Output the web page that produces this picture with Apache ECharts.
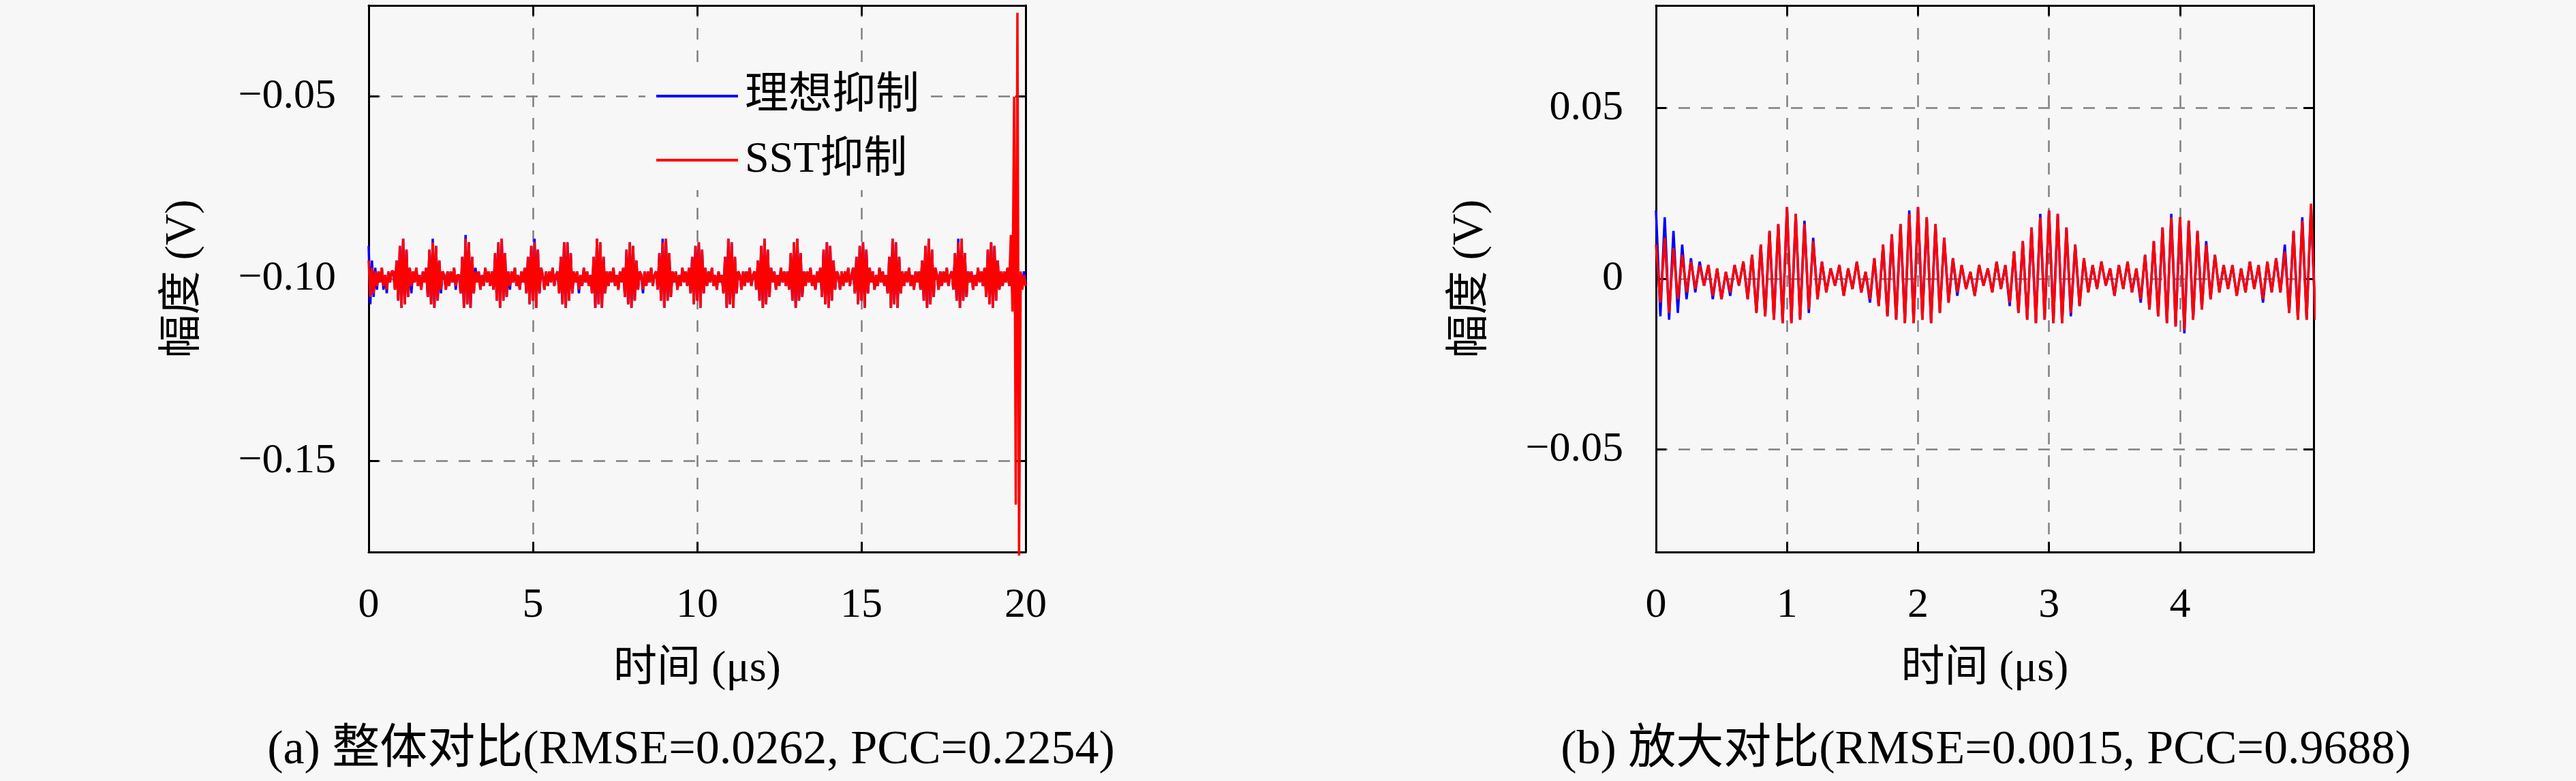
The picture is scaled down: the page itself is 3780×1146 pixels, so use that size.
<!DOCTYPE html>
<html><head><meta charset="utf-8">
<script src="https://cdn.jsdelivr.net/npm/echarts@6/dist/echarts.min.js"></script>
<style>html,body{margin:0;padding:0;background:#f7f7f7}#c{width:3780px;height:1146px}</style>
</head><body><div id="c"></div><script>
const FONT = "'Liberation Serif','Noto Sans CJK SC',serif";
const seriesNames = ['理想抑制', 'SST抑制'];
const xAxisTitle = '时间 (μs)';
const yAxisTitle = '幅度 (V)';
const captions = ['(a) 整体对比(RMSE=0.0262, PCC=0.2254)', '(b) 放大对比(RMSE=0.0015, PCC=0.9688)'];

// panel (a): sampled every 0.05 μs, 0 .. 20 μs
const leftStep = 0.05;
const leftXTicks = [0, 5, 10, 15, 20];
const leftYTicks = [-0.15, -0.10, -0.05];
const leftIdeal = [
-0.091,-0.107,-0.095,-0.105,-0.097,-0.103,-0.098,-0.101,-0.097,-0.103,-0.099,-0.104,-0.098,-0.101,-0.098,
-0.098,-0.103,-0.095,-0.106,-0.091,-0.108,-0.089,-0.107,-0.092,-0.105,-0.097,-0.104,-0.098,-0.101,-0.097,-0.102,-0.099,-0.103,-0.098,-0.101,
-0.097,-0.105,-0.092,-0.107,-0.089,-0.108,-0.091,-0.106,-0.095,-0.104,-0.098,-0.099,-0.103,-0.098,-0.102,-0.098,-0.101,-0.097,-0.103,-0.099,
-0.099,-0.104,-0.094,-0.108,-0.088,-0.107,-0.090,-0.108,-0.094,-0.104,-0.097,-0.101,-0.098,-0.103,-0.099,-0.102,-0.097,-0.101,-0.098,-0.102,
-0.098,-0.103,-0.093,-0.106,-0.090,-0.108,-0.089,-0.106,-0.093,-0.105,-0.098,-0.103,-0.098,-0.101,-0.097,-0.102,-0.099,-0.103,-0.098,-0.101,
-0.097,-0.104,-0.094,-0.107,-0.091,-0.106,-0.089,-0.108,-0.092,-0.104,-0.097,-0.099,-0.103,-0.098,-0.102,-0.098,-0.101,-0.097,-0.102,-0.099,
-0.098,-0.104,-0.094,-0.107,-0.090,-0.108,-0.090,-0.106,-0.093,-0.104,-0.098,-0.101,-0.098,-0.104,-0.099,-0.102,-0.097,-0.101,-0.098,-0.102,
-0.099,-0.104,-0.094,-0.108,-0.089,-0.107,-0.090,-0.108,-0.094,-0.104,-0.098,-0.102,-0.098,-0.101,-0.097,-0.102,-0.099,-0.103,-0.098,-0.101,
-0.097,-0.105,-0.092,-0.107,-0.090,-0.108,-0.091,-0.106,-0.095,-0.103,-0.098,-0.099,-0.104,-0.098,-0.102,-0.098,-0.101,-0.097,-0.102,-0.099,
-0.098,-0.103,-0.093,-0.106,-0.089,-0.108,-0.089,-0.106,-0.093,-0.105,-0.098,-0.101,-0.098,-0.103,-0.099,-0.102,-0.097,-0.101,-0.098,-0.102,
-0.097,-0.104,-0.094,-0.107,-0.091,-0.106,-0.090,-0.108,-0.092,-0.104,-0.097,-0.102,-0.098,-0.101,-0.097,-0.102,-0.099,-0.103,-0.098,-0.101,
-0.099,-0.104,-0.094,-0.108,-0.089,-0.107,-0.090,-0.108,-0.094,-0.104,-0.098,-0.099,-0.103,-0.098,-0.102,-0.098,-0.101,-0.097,-0.102,-0.099,
-0.098,-0.103,-0.095,-0.106,-0.091,-0.108,-0.089,-0.107,-0.092,-0.105,-0.097,-0.101,-0.098,-0.103,-0.099,-0.102,-0.097,-0.101,-0.098,-0.102,
-0.098,-0.103,-0.093,-0.106,-0.090,-0.108,-0.089,-0.106,-0.093,-0.105,-0.098,-0.102,-0.098,-0.101,-0.097,-0.102,-0.099,-0.103,-0.098,-0.101,
-0.097,-0.105,-0.092,-0.107,-0.090,-0.108,-0.091,-0.106,-0.095,-0.103,-0.098,-0.099,-0.103,-0.098,-0.102,-0.098,-0.101,-0.097,-0.102,-0.099,
-0.097,-0.104,-0.094,-0.107,-0.091,-0.106,-0.090,-0.108,-0.092,-0.104,-0.097,-0.101,-0.098,-0.103,-0.099,-0.102,-0.097,-0.101,-0.098,-0.102,
-0.099,-0.104,-0.094,-0.108,-0.089,-0.107,-0.090,-0.108,-0.094,-0.104,-0.098,-0.102,-0.098,-0.101,-0.097,-0.102,-0.099,-0.103,-0.098,-0.101,
-0.098,-0.103,-0.095,-0.106,-0.091,-0.108,-0.089,-0.107,-0.092,-0.105,-0.097,-0.099,-0.103,-0.098,-0.102,-0.098,-0.101,-0.097,-0.102,-0.099,
-0.098,-0.103,-0.093,-0.106,-0.089,-0.108,-0.089,-0.106,-0.093,-0.105,-0.098,-0.101,-0.098,-0.103,-0.099,-0.102,-0.097,-0.101,-0.098,-0.102,
-0.097,-0.105,-0.092,-0.107,-0.090,-0.108,-0.091,-0.106,-0.095,-0.103,-0.098,-0.102,-0.098,-0.101,-0.097,-0.102,-0.097,-0.104,-0.098,-0.103,-0.097,-0.104,-0.099,-0.102,-0.098,-0.101
];
const leftSST = [
-0.095,-0.105,-0.097,-0.104,-0.098,-0.102,-0.098,-0.101,-0.097,-0.102,-0.099,-0.103,-0.098,-0.101,-0.098,
-0.098,-0.103,-0.095,-0.106,-0.091,-0.108,-0.089,-0.107,-0.092,-0.105,-0.097,-0.102,-0.098,-0.101,-0.097,-0.102,-0.099,-0.103,-0.098,-0.101,
-0.097,-0.105,-0.092,-0.107,-0.090,-0.108,-0.091,-0.106,-0.095,-0.103,-0.098,-0.099,-0.103,-0.098,-0.102,-0.098,-0.101,-0.097,-0.102,-0.099,
-0.099,-0.104,-0.094,-0.108,-0.089,-0.107,-0.090,-0.108,-0.094,-0.104,-0.098,-0.101,-0.098,-0.103,-0.099,-0.102,-0.097,-0.101,-0.098,-0.102,
-0.098,-0.103,-0.093,-0.106,-0.090,-0.108,-0.089,-0.106,-0.093,-0.105,-0.098,-0.102,-0.098,-0.101,-0.097,-0.102,-0.099,-0.103,-0.098,-0.101,
-0.097,-0.104,-0.094,-0.107,-0.091,-0.106,-0.090,-0.108,-0.092,-0.104,-0.097,-0.099,-0.103,-0.098,-0.102,-0.098,-0.101,-0.097,-0.102,-0.099,
-0.098,-0.104,-0.094,-0.107,-0.090,-0.108,-0.090,-0.106,-0.093,-0.104,-0.098,-0.101,-0.098,-0.103,-0.099,-0.102,-0.097,-0.101,-0.098,-0.102,
-0.099,-0.104,-0.094,-0.108,-0.089,-0.107,-0.090,-0.108,-0.094,-0.104,-0.098,-0.102,-0.098,-0.101,-0.097,-0.102,-0.099,-0.103,-0.098,-0.101,
-0.097,-0.105,-0.092,-0.107,-0.090,-0.108,-0.091,-0.106,-0.095,-0.103,-0.098,-0.099,-0.103,-0.098,-0.102,-0.098,-0.101,-0.097,-0.102,-0.099,
-0.098,-0.103,-0.093,-0.106,-0.090,-0.108,-0.089,-0.106,-0.093,-0.105,-0.098,-0.101,-0.098,-0.103,-0.099,-0.102,-0.097,-0.101,-0.098,-0.102,
-0.097,-0.104,-0.094,-0.107,-0.091,-0.106,-0.090,-0.108,-0.092,-0.104,-0.097,-0.102,-0.098,-0.101,-0.097,-0.102,-0.099,-0.103,-0.098,-0.101,
-0.099,-0.104,-0.094,-0.108,-0.089,-0.107,-0.090,-0.108,-0.094,-0.104,-0.098,-0.099,-0.103,-0.098,-0.102,-0.098,-0.101,-0.097,-0.102,-0.099,
-0.098,-0.103,-0.095,-0.106,-0.091,-0.108,-0.089,-0.107,-0.092,-0.105,-0.097,-0.101,-0.098,-0.103,-0.099,-0.102,-0.097,-0.101,-0.098,-0.102,
-0.098,-0.103,-0.093,-0.106,-0.090,-0.108,-0.089,-0.106,-0.093,-0.105,-0.098,-0.102,-0.098,-0.101,-0.097,-0.102,-0.099,-0.103,-0.098,-0.101,
-0.097,-0.105,-0.092,-0.107,-0.090,-0.108,-0.091,-0.106,-0.095,-0.103,-0.098,-0.099,-0.103,-0.098,-0.102,-0.098,-0.101,-0.097,-0.102,-0.099,
-0.097,-0.104,-0.094,-0.107,-0.091,-0.106,-0.090,-0.108,-0.092,-0.104,-0.097,-0.101,-0.098,-0.103,-0.099,-0.102,-0.097,-0.101,-0.098,-0.102,
-0.099,-0.104,-0.094,-0.108,-0.089,-0.107,-0.090,-0.108,-0.094,-0.104,-0.098,-0.102,-0.098,-0.101,-0.097,-0.102,-0.099,-0.103,-0.098,-0.101,
-0.098,-0.103,-0.095,-0.106,-0.091,-0.108,-0.089,-0.107,-0.092,-0.105,-0.097,-0.099,-0.103,-0.098,-0.102,-0.098,-0.101,-0.097,-0.102,-0.099,
-0.098,-0.103,-0.093,-0.106,-0.090,-0.108,-0.089,-0.106,-0.093,-0.105,-0.098,-0.101,-0.098,-0.103,-0.099,-0.102,-0.097,-0.101,-0.098,-0.102,
-0.097,-0.105,-0.092,-0.107,-0.090,-0.108,-0.091,-0.106,-0.095,-0.103,-0.098,-0.102,-0.098,-0.101,-0.097,-0.102,-0.088,-0.109,-0.050,-0.162,-0.027,-0.176,-0.098,-0.103,-0.099,-0.102
];

// panel (b): sampled every 1/30 μs, 0 .. 5 μs
const rightStep = 1 / 30;
const rightXTicks = [0, 1, 2, 3, 4];
const rightYTicks = [-0.05, 0, 0.05];
const rightIdeal = [
0.020,-0.011,0.018,-0.012,0.014,-0.010,0.010,-0.006,0.006,-0.004,
0.005,-0.002,0.004,-0.006,0.003,-0.006,0.002,-0.005,0.004,-0.002,
0.005,-0.006,0.007,-0.010,0.010,-0.011,0.014,-0.012,0.016,-0.013,
0.021,-0.013,0.019,-0.012,0.017,-0.010,0.012,-0.006,0.005,-0.004,
0.003,-0.002,0.004,-0.005,0.003,-0.003,0.005,-0.004,0.002,-0.007,
0.006,-0.008,0.010,-0.011,0.013,-0.012,0.016,-0.013,0.020,-0.013,
0.021,-0.012,0.018,-0.013,0.016,-0.010,0.012,-0.007,0.006,-0.005,
0.004,-0.003,0.002,-0.005,0.004,-0.002,0.003,-0.004,0.005,-0.003,
0.004,-0.008,0.008,-0.010,0.011,-0.012,0.015,-0.013,0.019,-0.012,
0.020,-0.013,0.019,-0.013,0.015,-0.011,0.010,-0.008,0.006,-0.004,
0.004,-0.003,0.005,-0.002,0.003,-0.005,0.004,-0.003,0.005,-0.004,
0.003,-0.007,0.007,-0.009,0.011,-0.011,0.015,-0.013,0.019,-0.014,
0.018,-0.016,0.017,-0.012,0.014,-0.009,0.011,-0.006,0.007,-0.004,
0.004,-0.003,0.004,-0.005,0.003,-0.004,0.005,-0.003,0.004,-0.007,
0.005,-0.004,0.006,-0.004,0.010,-0.010,0.014,-0.012,0.018,-0.012,
0.021,-0.012
];
const rightSST = [
0.010,-0.007,0.012,-0.010,0.009,-0.006,0.007,-0.004,0.005,-0.003,
0.004,-0.002,0.004,-0.005,0.003,-0.006,0.002,-0.004,0.004,-0.002,
0.005,-0.006,0.007,-0.010,0.010,-0.011,0.014,-0.012,0.016,-0.013,
0.021,-0.013,0.019,-0.012,0.016,-0.009,0.011,-0.006,0.005,-0.004,
0.003,-0.002,0.004,-0.005,0.003,-0.003,0.005,-0.004,0.002,-0.006,
0.006,-0.008,0.010,-0.011,0.013,-0.012,0.016,-0.013,0.019,-0.013,
0.021,-0.012,0.018,-0.013,0.016,-0.010,0.012,-0.007,0.006,-0.004,
0.004,-0.003,0.002,-0.005,0.004,-0.002,0.003,-0.004,0.005,-0.003,
0.004,-0.007,0.008,-0.010,0.011,-0.012,0.015,-0.013,0.018,-0.012,
0.020,-0.013,0.019,-0.013,0.015,-0.010,0.010,-0.008,0.006,-0.004,
0.004,-0.003,0.005,-0.002,0.003,-0.005,0.004,-0.003,0.005,-0.004,
0.003,-0.006,0.007,-0.009,0.011,-0.011,0.015,-0.013,0.018,-0.014,
0.018,-0.015,0.017,-0.012,0.014,-0.009,0.010,-0.006,0.007,-0.004,
0.004,-0.003,0.004,-0.005,0.003,-0.004,0.005,-0.003,0.004,-0.006,
0.005,-0.004,0.006,-0.004,0.008,-0.010,0.014,-0.012,0.017,-0.012,
0.022,-0.012
];

const pair = (arr, step) => arr.map((v, i) => [i * step, v]);
const minus = s => s.replace('-', '\u2212');
const fmtLeftY = v => minus(v.toFixed(2));
const fmtRightY = v => Math.abs(v) < 1e-9 ? '0' : minus(v.toFixed(2));

const LINE = { color: '#000', width: 3 };
const GRIDLINE = { show: true, lineStyle: { color: '#808080', width: 2.5, type: [17, 16] } };
const LABEL = { color: '#000', fontSize: 62, fontFamily: FONT };
const NAME = { color: '#000', fontSize: 64, fontFamily: FONT };

function mainX(gi, min, max, ticks) {
  return {
    gridIndex: gi, type: 'value', min, max, position: 'bottom',
    axisLine: { show: true, onZero: false, lineStyle: LINE },
    axisTick: { show: true, inside: true, length: 15, lineStyle: LINE, customValues: ticks },
    axisLabel: Object.assign({ margin: 48, customValues: ticks, formatter: v => String(v) }, LABEL),
    splitLine: GRIDLINE,
    name: xAxisTitle, nameLocation: 'middle', nameGap: 140, nameTextStyle: NAME
  };
}
function boxX(gi, min, max, ticks) {
  return {
    gridIndex: gi, type: 'value', min, max, position: 'top',
    axisLine: { show: true, onZero: false, lineStyle: LINE },
    axisTick: { show: true, inside: true, length: 15, lineStyle: LINE, customValues: ticks },
    axisLabel: { show: false }, splitLine: { show: false }
  };
}
function mainY(gi, min, max, ticks, fmt) {
  return {
    gridIndex: gi, type: 'value', min, max, position: 'left',
    axisLine: { show: true, onZero: false, lineStyle: LINE },
    axisTick: { show: true, inside: true, length: 15, lineStyle: LINE, customValues: ticks },
    axisLabel: Object.assign({ margin: 48, customValues: ticks, formatter: fmt }, LABEL),
    splitLine: GRIDLINE,
    name: yAxisTitle, nameLocation: 'middle', nameGap: 240, nameRotate: 90, nameTextStyle: NAME
  };
}
function boxY(gi, min, max, ticks) {
  return {
    gridIndex: gi, type: 'value', min, max, position: 'right',
    axisLine: { show: true, onZero: false, lineStyle: LINE },
    axisTick: { show: true, inside: true, length: 15, lineStyle: LINE, customValues: ticks },
    axisLabel: { show: false }, splitLine: { show: false }
  };
}

const chart = echarts.init(document.getElementById('c'), null, { renderer: 'canvas' });
chart.setOption({
  backgroundColor: '#f7f7f7',
  animation: false,
  grid: [
    { left: 541, top: 8, width: 964, height: 802 },
    { left: 2430, top: 8, width: 965, height: 802 }
  ],
  xAxis: [
    mainX(0, 0, 20, leftXTicks), mainX(1, 0, 5.02, rightXTicks),
    boxX(0, 0, 20, leftXTicks), boxX(1, 0, 5.02, rightXTicks)
  ],
  yAxis: [
    mainY(0, -0.175, -0.025, leftYTicks, fmtLeftY), mainY(1, -0.08, 0.08, rightYTicks, fmtRightY),
    boxY(0, -0.175, -0.025, leftYTicks), boxY(1, -0.08, 0.08, rightYTicks)
  ],
  legend: {
    data: seriesNames, orient: 'vertical', left: 947, top: 97,
    padding: [12, 16, 12, 16], itemWidth: 120, itemHeight: 4, itemGap: 30, icon: 'rect',
    backgroundColor: '#f7f7f7',
    textStyle: { color: '#000', fontSize: 64, fontFamily: FONT, padding: [0, 0, 0, 5] }
  },
  series: [
    { name: seriesNames[0], type: 'line', xAxisIndex: 0, yAxisIndex: 0, data: pair(leftIdeal, leftStep),
      symbol: 'none', color: '#0000ff', lineStyle: { width: 3.5, color: '#0000ff' } },
    { name: seriesNames[1], type: 'line', xAxisIndex: 0, yAxisIndex: 0, data: pair(leftSST, leftStep),
      symbol: 'none', clip: false, color: '#ff0000', lineStyle: { width: 3.5, color: '#ff0000' } },
    { name: seriesNames[0], type: 'line', xAxisIndex: 1, yAxisIndex: 1, data: pair(rightIdeal, rightStep),
      symbol: 'none', color: '#0000ff', lineStyle: { width: 3.5, color: '#0000ff' } },
    { name: seriesNames[1], type: 'line', xAxisIndex: 1, yAxisIndex: 1, data: pair(rightSST, rightStep),
      symbol: 'none', color: '#ff0000', lineStyle: { width: 3.5, color: '#ff0000' } }
  ],
  graphic: [
    { type: 'text', x: 1014, y: 1102, style: { text: captions[0], fontSize: 70, fontFamily: FONT, fill: '#000', align: 'center', verticalAlign: 'middle' } },
    { type: 'text', x: 2914, y: 1102, style: { text: captions[1], fontSize: 70, fontFamily: FONT, fill: '#000', align: 'center', verticalAlign: 'middle' } }
  ]
});
</script></body></html>
